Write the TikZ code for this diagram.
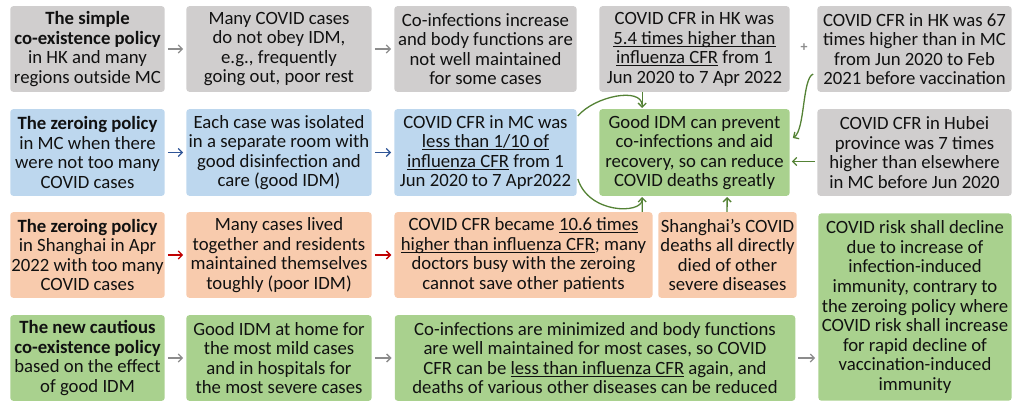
\documentclass[tikz,border=0pt]{standalone}
\usepackage{fontspec}
\setmainfont{Carlito}
\usetikzlibrary{arrows.meta,calc}
\definecolor{grayfill}{HTML}{D0CECE}
\definecolor{bluefill}{HTML}{BDD7EE}
\definecolor{salmonfill}{HTML}{F8CBAD}
\definecolor{greenfill}{HTML}{A9D18E}
\definecolor{txt}{HTML}{111111}
\definecolor{grayarrow}{HTML}{8C8C8C}
\definecolor{bluearrow}{HTML}{2F5597}
\definecolor{redarrow}{HTML}{C00000}
\definecolor{greenarrow}{HTML}{548235}
\newsavebox{\ulbox}
\newcommand{\myul}[1]{\sbox{\ulbox}{#1}\rlap{\rule[-2.4bp]{\wd\ulbox}{0.9bp}}\usebox{\ulbox}}
\tikzset{
  box/.style={rounded corners=3bp, inner sep=0pt, align=center, text=txt,
    font=\fontsize{18.8}{19.6}\selectfont},
  graybox/.style={box, fill=grayfill},
  bluebox/.style={box, fill=bluefill},
  salmonbox/.style={box, fill=salmonfill},
  greenbox/.style={box, fill=greenfill},
  arr/.style={-{Straight Barb[length=4bp,width=8bp]}, line width=1.3bp, shorten >=3bp, shorten <=3bp},
  grayarr/.style={arr, draw=grayarrow},
  bluearr/.style={arr, draw=bluearrow},
  redarr/.style={arr, draw=redarrow},
  greenarr/.style={-{Straight Barb[length=4bp,width=8bp]}, line width=1.3bp, draw=greenarrow},
  greenline/.style={line width=1.3bp, draw=greenarrow},
}
\newcommand{\bx}[6]{% style, name, x1, y1, x2, y2
  \node[#1, minimum width=#5-#3, minimum height=#6-#4] (#2) at ({(#3+#5)/2},{(#4+#6)/2})}
\begin{document}
\begin{tikzpicture}[x=1bp,y=-1bp]
\useasboundingbox (0,0) rectangle (1024,409);
% Row 1
\bx{graybox}{A1}{10}{6}{165}{92} {\textbf{The simple}\\\textbf{co-existence policy}\\in HK and many\\regions outside MC};
\bx{graybox}{A2}{186}{6}{372}{92} {Many COVID cases\\do not obey IDM,\\e.g., frequently\\going out, poor rest};
\bx{graybox}{A3}{394}{6}{577}{92} {Co-infections increase\\and body functions are\\not well maintained\\for some cases};
\bx{graybox}{A4}{599}{6}{790}{92} {COVID CFR in HK was\\\myul{5.4 times higher than}\\\myul{influenza CFR} from 1\\Jun 2020 to 7 Apr 2022};
\bx{graybox}{A5}{817}{6}{1012}{92} {COVID CFR in HK was 67\\times higher than in MC\\from Jun 2020 to Feb\\2021 before vaccination};
\node[text=grayarrow, font=\fontsize{14}{16}\selectfont\bfseries] (plus) at (804,48) {+};
% Row 2
\bx{bluebox}{B1}{10}{109}{165}{196} {\textbf{The zeroing policy}\\in MC when there\\were not too many\\COVID cases};
\bx{bluebox}{B2}{186}{109}{372}{196} {Each case was isolated\\in a separate room with\\good disinfection and\\care (good IDM)};
\bx{bluebox}{B3}{394}{109}{577}{196} {COVID CFR in MC was\\\myul{less than 1/10 of}\\\myul{influenza CFR} from 1\\Jun 2020 to 7 Apr2022};
\bx{greenbox}{B4}{599}{109}{790}{196} {Good IDM can prevent\\co-infections and aid\\recovery, so can reduce\\COVID deaths greatly};
\bx{graybox}{B5}{817}{109}{1012}{196} {COVID CFR in Hubei\\province was 7 times\\higher than elsewhere\\in MC before Jun 2020};
% Row 3
\bx{salmonbox}{C1}{10}{212}{165}{298} {\textbf{The zeroing policy}\\in Shanghai in Apr\\2022 with too many\\COVID cases};
\bx{salmonbox}{C2}{186}{212}{372}{298} {Many cases lived\\together and residents\\maintained themselves\\toughly (poor IDM)};
\bx{salmonbox}{C3}{394}{212}{653}{298} {COVID CFR became \myul{10.6 times}\\\myul{higher than influenza CFR}; many\\doctors busy with the zeroing\\cannot save other patients};
\bx{salmonbox}{C4}{658}{212}{797}{298} {Shanghai's COVID\\deaths all directly\\died of other\\severe diseases};
\bx{greenbox}{D5}{818}{213}{1012}{401} {COVID risk shall decline\\due to increase of\\infection-induced\\immunity, contrary to\\the zeroing policy where\\COVID risk shall increase\\for rapid decline of\\vaccination-induced\\immunity};
% Row 4
\bx{greenbox}{D1}{10}{315}{165}{401} {\textbf{The new cautious}\\\textbf{co-existence policy}\\based on the effect\\of good IDM};
\bx{greenbox}{D2}{186}{315}{372}{401} {Good IDM at home for\\the most mild cases\\and in hospitals for\\the most severe cases};
\bx{greenbox}{D3}{394}{315}{796}{401} {Co-infections are minimized and body functions\\are well maintained for most cases, so COVID\\CFR can be \myul{less than influenza CFR} again, and\\deaths of various other diseases can be reduced};
% straight arrows
\draw[grayarr] (A1) -- (A2);
\draw[grayarr] (A2) -- (A3);
\draw[bluearr] (B1) -- (B2);
\draw[bluearr] (B2) -- (B3);
\draw[redarr] (C1) -- (C2);
\draw[redarr] (C2) -- (C3);
\draw[grayarr] (D1) -- (D2);
\draw[grayarr] (D2) -- (D3);
\draw[grayarr] (D3.east) -- (D3.east -| D5.west);
% green connectors
\draw[greenarr] ($(A4.south west)+(43,0)$) -- ($(B4.north west)+(43,-1)$);
\draw[greenline] ($(B3.north east)+(1,7)$) .. controls ($(B3.north east)+(18,-13)$) and ($(B4.north west)+(42,-22)$) .. ($(B4.north west)+(43,-4)$);
\draw[greenarr] ($(C3.north west)+(248,0)$) -- ($(B4.south west)+(43,1)$);
\draw[greenline] ($(B3.south east)+(1,-17)$) .. controls ($(B3.south east)+(12,18)$) and ($(B4.south west)+(42,18)$) .. ($(B4.south west)+(43,4)$);
\draw[greenarr] ($(C4.north west)+(69,0)$) -- ($(B4.south west)+(128,1)$);
\draw[greenarr] ($(A5.south west)+(-4,-18)$) .. controls ($(A5.south west)+(-15,-14)$) and ($(A5.south west)+(-12,38)$) .. ($(B4.north east)+(3,29)$);
\draw[greenarr] ($(B5.west)+(-2,9)$) -- ($(B4.east)+(2,9)$);
\end{tikzpicture}
\end{document}
